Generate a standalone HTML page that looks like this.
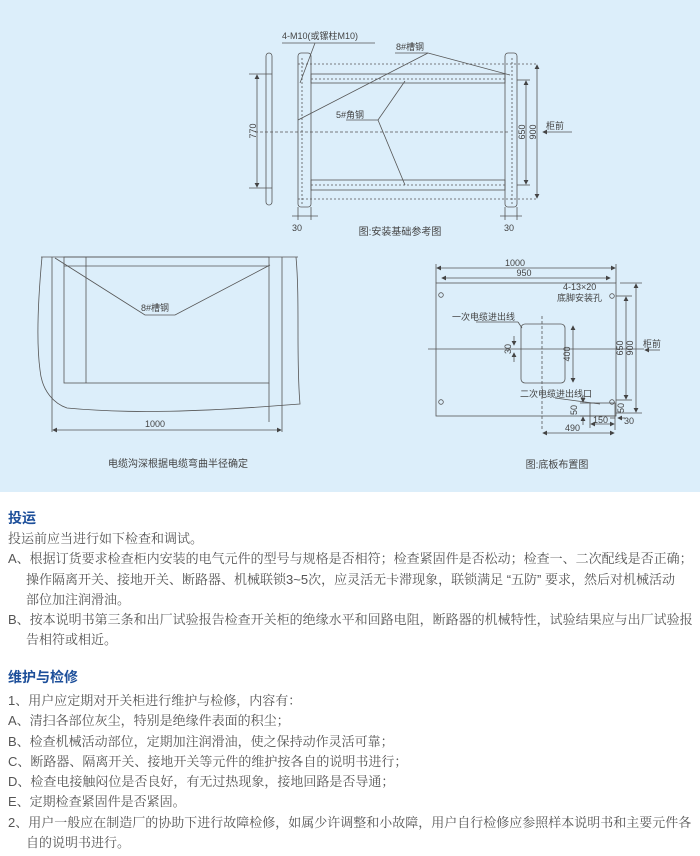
<!DOCTYPE html>
<html><head><meta charset="utf-8"><style>
body{margin:0;width:700px;height:856px;background:#fff;font-family:"Liberation Sans","Noto Sans CJK SC",sans-serif;overflow:hidden;position:relative}
.dg{position:absolute;left:0;top:0;width:700px;height:492px;background:#dceefa}
svg{position:absolute;left:0;top:0}
.t{position:absolute;left:8px;font-size:13px;color:#555;line-height:20.3px;white-space:nowrap;font-family:"Liberation Sans","Noto Serif CJK SC",serif}
h3{position:absolute;left:8px;margin:0;font-size:14px;color:#1d4f9a;font-weight:bold}
</style></head><body>
<div class="dg"></div>
<svg width="700" height="492" font-family="Liberation Sans,Noto Sans CJK SC,sans-serif" fill="none" stroke="#555" stroke-width="0.8">
<defs><marker id="a" markerWidth="6" markerHeight="6" refX="5" refY="3" orient="auto-start-reverse"><path d="M0,0L6,3L0,6z" fill="#444" stroke="none"/></marker></defs>
<!-- Diagram 1 -->
<rect x="266" y="53" width="6" height="152" rx="3"/>
<line x1="249" y1="74" x2="272" y2="74"/><line x1="249" y1="188" x2="272" y2="188"/>
<line x1="257" y1="75" x2="257" y2="187" marker-start="url(#a)" marker-end="url(#a)"/>
<rect x="298" y="53" width="13" height="154" rx="3"/>
<rect x="505" y="53" width="12" height="154" rx="3"/>
<line x1="302" y1="58" x2="302" y2="205" stroke-dasharray="2 2"/>
<line x1="512" y1="58" x2="512" y2="205" stroke-dasharray="2 2"/>
<line x1="298" y1="64" x2="538" y2="64" stroke-dasharray="2 2"/>
<rect x="311" y="74" width="194" height="9"/>
<line x1="311" y1="79" x2="505" y2="79" stroke-dasharray="2 2"/>
<rect x="311" y="180" width="194" height="10"/>
<line x1="311" y1="185" x2="505" y2="185" stroke-dasharray="2 2"/>
<line x1="298" y1="199" x2="538" y2="199" stroke-dasharray="2 2"/>
<line x1="255" y1="132" x2="510" y2="132" stroke-dasharray="3 2"/>
<line x1="517" y1="80" x2="530" y2="80"/><line x1="517" y1="185" x2="530" y2="185"/>
<line x1="526" y1="81" x2="526" y2="184" marker-start="url(#a)" marker-end="url(#a)"/>
<line x1="537" y1="65" x2="537" y2="198" marker-start="url(#a)" marker-end="url(#a)"/>
<line x1="572" y1="132" x2="543" y2="132" marker-end="url(#a)"/>
<line x1="298" y1="207" x2="298" y2="220"/><line x1="311" y1="207" x2="311" y2="220"/>
<line x1="505" y1="207" x2="505" y2="220"/><line x1="517" y1="207" x2="517" y2="220"/>
<line x1="292" y1="216" x2="318" y2="216"/><line x1="500" y1="216" x2="522" y2="216"/>
<polyline points="375,43 282,43"/><line x1="315" y1="43" x2="300" y2="83"/>
<line x1="395" y1="53" x2="428" y2="53"/><line x1="428" y1="53" x2="298" y2="120"/><line x1="428" y1="53" x2="510" y2="75"/>
<line x1="346" y1="120" x2="378" y2="120"/><line x1="378" y1="120" x2="405" y2="81"/><line x1="378" y1="120" x2="405" y2="185"/>
<g fill="#444" stroke="none" font-size="9">
<text x="282" y="39">4-M10(或镙柱M10)</text>
<text x="396" y="50">8#槽钢</text>
<text x="336" y="118">5#角钢</text>
<text transform="translate(256,131) rotate(-90)" text-anchor="middle" y="0">770</text>
<text transform="translate(525,132) rotate(-90)" text-anchor="middle">650</text>
<text transform="translate(536,132) rotate(-90)" text-anchor="middle">900</text>
<text x="546" y="129">柜前</text>
<text x="292" y="231">30</text><text x="504" y="231">30</text>
<text x="400" y="235" text-anchor="middle" font-size="10">图:安装基础参考图</text>
</g>
<!-- Diagram 2 -->
<path d="M41,257L298,257M42,257C38,300 36,340 40,370C42,392 55,404 67,408C130,414 200,412 300,404C296,360 300,300 296,257"/>
<rect x="64" y="257" width="205" height="126"/>
<line x1="64" y1="266" x2="269" y2="266"/>
<line x1="86" y1="257" x2="86" y2="383"/>
<line x1="269" y1="383" x2="269" y2="422"/>
<line x1="52" y1="257" x2="52" y2="432"/><line x1="282" y1="257" x2="282" y2="432"/>
<line x1="53" y1="430" x2="281" y2="430" marker-start="url(#a)" marker-end="url(#a)"/>
<polyline points="55,258 145,315 175,315 270,265"/>
<g fill="#444" stroke="none"><text x="141" y="311" font-size="9">8#槽钢</text>
<text x="145" y="427" font-size="9">1000</text>
<text x="178" y="467" text-anchor="middle" font-size="10">电缆沟深根据电缆弯曲半径确定</text></g>
<!-- Diagram 3 -->
<rect x="436" y="283" width="180" height="133"/>
<line x1="436" y1="264" x2="436" y2="283"/><line x1="616" y1="264" x2="616" y2="283"/>
<line x1="437" y1="268" x2="615" y2="268" marker-start="url(#a)" marker-end="url(#a)"/>
<line x1="442" y1="278" x2="610" y2="278" marker-start="url(#a)" marker-end="url(#a)"/>
<circle cx="441" cy="295" r="2.3"/><circle cx="612" cy="296" r="2.3"/><circle cx="441" cy="402" r="2.3"/><circle cx="612" cy="402" r="2.3"/>
<rect x="521" y="324" width="44" height="59" rx="4"/>
<line x1="542" y1="316" x2="542" y2="430" stroke-dasharray="3 2"/>
<line x1="428" y1="349" x2="644" y2="349"/>
<line x1="573" y1="326" x2="573" y2="382" marker-start="url(#a)" marker-end="url(#a)"/>
<line x1="514" y1="336" x2="514" y2="345" marker-end="url(#a)"/><line x1="514" y1="362" x2="514" y2="353" marker-end="url(#a)"/>
<line x1="616" y1="296" x2="632" y2="296"/><line x1="616" y1="400" x2="632" y2="400"/>
<line x1="626" y1="297" x2="626" y2="399" marker-start="url(#a)" marker-end="url(#a)"/>
<line x1="620" y1="283" x2="642" y2="283"/><line x1="616" y1="413" x2="642" y2="413"/>
<line x1="636" y1="284" x2="636" y2="412" marker-start="url(#a)" marker-end="url(#a)"/>
<line x1="660" y1="350" x2="645" y2="350" marker-end="url(#a)"/>
<rect x="590" y="403" width="25" height="13"/>
<line x1="580" y1="403" x2="595" y2="403"/><line x1="580" y1="416" x2="595" y2="416"/>
<line x1="583" y1="395" x2="583" y2="402" marker-end="url(#a)"/><line x1="583" y1="425" x2="583" y2="417" marker-end="url(#a)"/>
<line x1="590" y1="416" x2="590" y2="428"/><line x1="615" y1="416" x2="615" y2="430"/>
<line x1="591" y1="424" x2="614" y2="424" marker-start="url(#a)" marker-end="url(#a)"/>
<line x1="610" y1="418" x2="615" y2="418" /><line x1="625" y1="418" x2="618" y2="418" marker-end="url(#a)"/>
<line x1="543" y1="433" x2="614" y2="433" marker-start="url(#a)" marker-end="url(#a)"/>
<line x1="476" y1="322" x2="518" y2="322"/><line x1="518" y1="322" x2="522" y2="328"/>
<line x1="555" y1="398" x2="600" y2="404"/>
<g fill="#444" stroke="none" font-size="9">
<text x="515" y="266" text-anchor="middle">1000</text>
<text x="524" y="276" text-anchor="middle">950</text>
<text x="563" y="290">4-13×20</text><text x="557" y="301">底脚安装孔</text>
<text x="452" y="320">一次电缆进出线</text>
<text transform="translate(511,349) rotate(-90)" text-anchor="middle">30</text>
<text transform="translate(570,354) rotate(-90)" text-anchor="middle">400</text>
<text transform="translate(623,348) rotate(-90)" text-anchor="middle">650</text>
<text transform="translate(633,348) rotate(-90)" text-anchor="middle">900</text>
<text x="643" y="347">柜前</text>
<text x="520" y="397">二次电缆进出线口</text>
<text transform="translate(577,410) rotate(-90)" text-anchor="middle">50</text>
<text transform="translate(624,408) rotate(-90)" text-anchor="middle">50</text>
<text x="593" y="423">150</text><text x="624" y="424">30</text>
<text x="565" y="431">490</text>
<text x="557" y="468" text-anchor="middle" font-size="10">图:底板布置图</text>
</g>
</svg>
<h3 style="top:508px">投运</h3>
<div class="t" style="top:529px">投运前应当进行如下检查和调试。<br>A、根据订货要求检查柜内安装的电气元件的型号与规格是否相符；检查紧固件是否松动；检查一、二次配线是否正确；<br>&nbsp;&nbsp;&nbsp;&nbsp;&nbsp;操作隔离开关、接地开关、断路器、机械联锁3~5次，应灵活无卡滞现象，联锁满足 “五防” 要求，然后对机械活动<br>&nbsp;&nbsp;&nbsp;&nbsp;&nbsp;部位加注润滑油。<br>B、按本说明书第三条和出厂试验报告检查开关柜的绝缘水平和回路电阻，断路器的机械特性，试验结果应与出厂试验报<br>&nbsp;&nbsp;&nbsp;&nbsp;&nbsp;告相符或相近。</div>
<h3 style="top:667px">维护与检修</h3>
<div class="t" style="top:691px">1、用户应定期对开关柜进行维护与检修，内容有：<br>A、清扫各部位灰尘，特别是绝缘件表面的积尘；<br>B、检查机械活动部位，定期加注润滑油，使之保持动作灵活可靠；<br>C、断路器、隔离开关、接地开关等元件的维护按各自的说明书进行；<br>D、检查电接触闷位是否良好，有无过热现象，接地回路是否导通；<br>E、定期检查紧固件是否紧固。<br>2、用户一般应在制造厂的协助下进行故障检修，如属少许调整和小故障，用户自行检修应参照样本说明书和主要元件各<br>&nbsp;&nbsp;&nbsp;&nbsp;&nbsp;自的说明书进行。</div>
</body></html>
